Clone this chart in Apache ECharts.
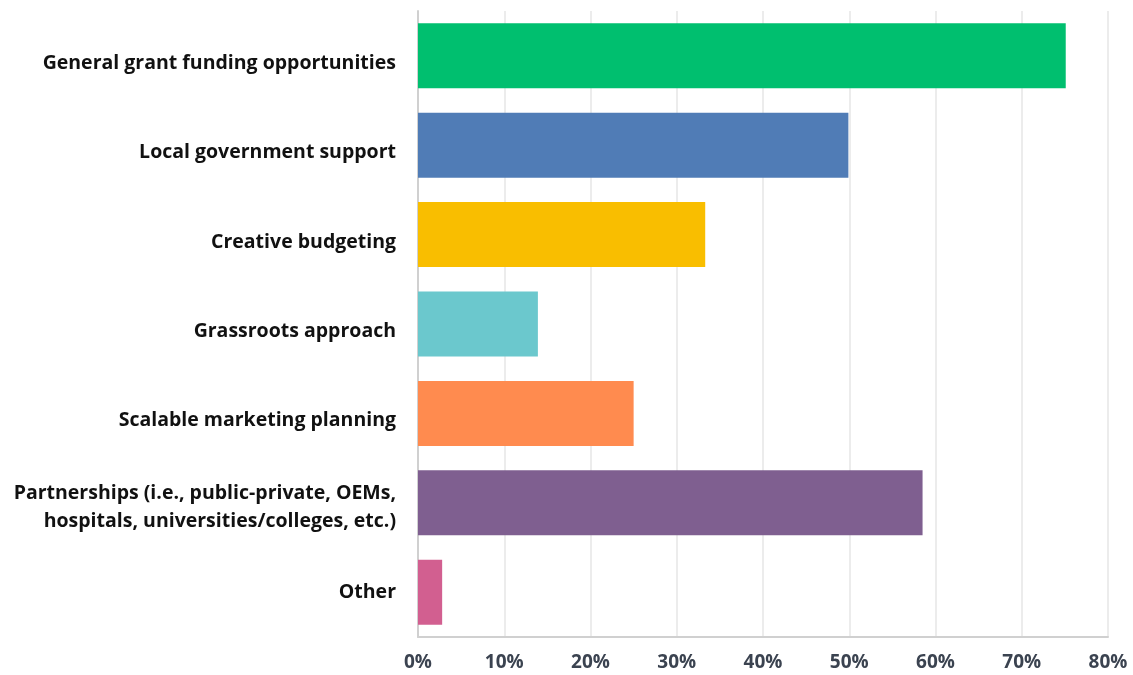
<!DOCTYPE html>
<html>
<head>
<meta charset="utf-8">
<script src="https://cdn.jsdelivr.net/npm/echarts@6/dist/echarts.min.js"></script>
<style>
  html, body { margin: 0; padding: 0; background: #ffffff; }
  #chart { width: 1133px; height: 675px; }
</style>
</head>
<body>
<div id="chart"></div>
<script>
// Survey responses: funding approaches (share of respondents, %)
const categories = [
  'General grant funding opportunities',
  'Local government support',
  'Creative budgeting',
  'Grassroots approach',
  'Scalable marketing planning',
  'Partnerships (i.e., public-private, OEMs,\nhospitals, universities/colleges, etc.)',
  'Other'
];
const values = [75.1, 49.9, 33.3, 13.9, 25.0, 58.5, 2.8];
const barColors = ['#00bf6f', '#507cb6', '#f9be00', '#6bc8cd', '#ff8b4f', '#7f5f90', '#d25f90'];
const tickStep = 10;
const tickMax = 80;

const labelFont = {
  color: '#111111',
  fontFamily: 'Open Sans',
  fontWeight: 'bold',
  fontSize: 19.5,
  lineHeight: 28,
  align: 'right'
};

const chart = echarts.init(document.getElementById('chart'), null, { renderer: 'canvas' });
chart.setOption({
  animation: false,
  grid: { left: 418, right: 25, top: 11, bottom: 38, containLabel: false },
  xAxis: {
    type: 'value',
    min: 0,
    max: tickMax,
    interval: tickStep,
    axisLine: { show: true, lineStyle: { color: '#d0d0d0', width: 2 } },
    axisTick: { show: false },
    splitLine: { show: true, lineStyle: { color: '#ececec', width: 2 } },
    axisLabel: {
      formatter: '{value}%',
      color: '#3b4350',
      fontFamily: 'Open Sans',
      fontWeight: 'bold',
      fontSize: 19,
      margin: 16
    }
  },
  yAxis: {
    type: 'category',
    inverse: true,
    data: categories,
    axisLine: { show: true, lineStyle: { color: '#d0d0d0', width: 2 } },
    axisTick: { show: false },
    splitLine: { show: false },
    axisLabel: Object.assign({}, labelFont, {
      margin: 22,
      // a thin spacer line above the text nudges labels a little below the bar centre
      // (the last label stays centred)
      formatter: (value, idx) => {
        const lines = value.split('\n').map(line => '{s|' + line + '}');
        if (idx < categories.length - 1) lines.unshift(lines.length > 1 ? '{g| }' : '{h| }');
        return lines.join('\n');
      },
      rich: {
        g: { fontSize: 1, lineHeight: 10 },
        h: { fontSize: 1, lineHeight: 15 },
        s: Object.assign({}, labelFont)
      }
    })
  },
  series: [{
    type: 'bar',
    data: values.map((v, i) => ({ value: v, itemStyle: { color: barColors[i] } })),
    barWidth: 65,
    label: { show: false }
  }]
});
</script>
</body>
</html>
